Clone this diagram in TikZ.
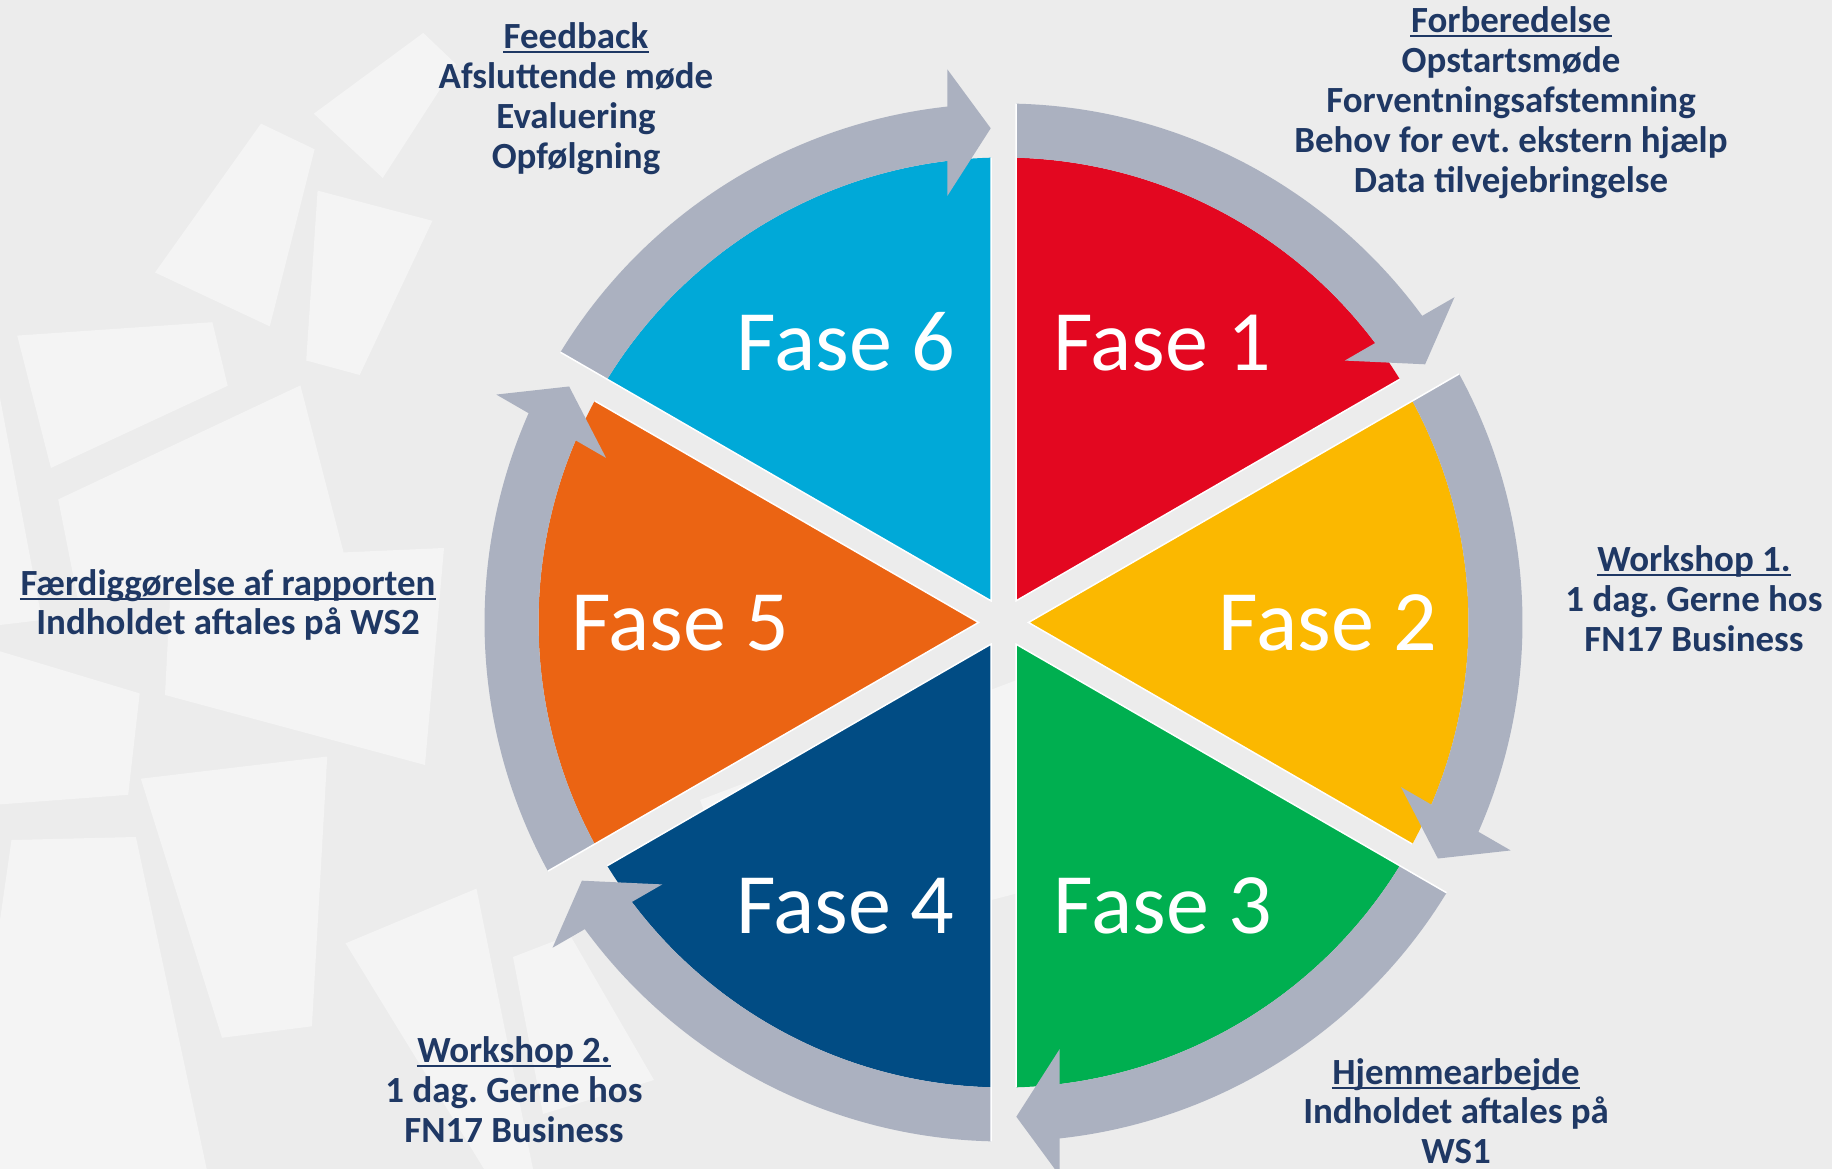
\documentclass[tikz,border=0pt]{standalone}
\usepackage{fontspec}
\setmainfont{Carlito}
\frenchspacing
\definecolor{bg}{HTML}{ECECEC}
\definecolor{sheetcol}{HTML}{F4F4F4}
\definecolor{ringcol}{HTML}{ABB1C0}
\definecolor{ink}{HTML}{1F3864}
\definecolor{c1}{HTML}{E30720}
\definecolor{c2}{HTML}{FBB800}
\definecolor{c3}{HTML}{00AF50}
\definecolor{c4}{HTML}{014C84}
\definecolor{c5}{HTML}{EB6413}
\definecolor{c6}{HTML}{00A9D8}
\tikzset{
  sheet/.style={fill=sheetcol},
  band/.style={fill=ringcol},
  edge/.style={draw=white, line width=0.15mm},
  fase/.style={text=white, inner sep=0pt, anchor=base, font=\fontsize{24.5}{29}\selectfont},
  lbl/.style={text=ink, inner sep=0pt, anchor=base, font=\bfseries\fontsize{10.5}{12}\selectfont},
  ul/.style={draw=ink, line width=0.2mm},
}

\begin{document}
\begin{tikzpicture}[x=0.1mm,y=-0.1mm]
  \useasboundingbox (0,0) rectangle (1832,1169);
  \fill[bg] (0,0) rectangle (1832,1169);
  % loose sheets behind the wheel
  \fill[sheet] (313.8,113.7) -- (423.3,32.9) -- (456.2,64.3) -- (382.7,178) -- cycle;
  \fill[sheet] (155,272.5) -- (261,123.6) -- (314.6,149.3) -- (269.8,326.4) -- cycle;
  \fill[sheet] (317.6,190.6) -- (432.4,220.8) -- (359.7,375) -- (306.2,360.5) -- cycle;
  \fill[sheet] (17.2,335.6) -- (212.4,322.2) -- (227.7,385.8) -- (50.9,468) -- cycle;
  \fill[sheet] (58.2,499.4) -- (300.4,385.4) -- (347.5,567.6) -- (78,600) -- cycle;
  \fill[sheet] (172,560) -- (444,548) -- (425,765) -- (165,695) -- cycle;
  \fill[sheet] (0,398) -- (42,620) -- (0,625) -- cycle;
  \fill[sheet] (0,651.3) -- (139.7,693.4) -- (128.2,794.8) -- (0,804.4) -- cycle;
  \fill[sheet] (140.8,778.7) -- (327.2,756.5) -- (311.9,1026.3) -- (222,1037.8) -- cycle;
  \fill[sheet] (11.5,840) -- (135.9,837) -- (206.7,1169) -- (0,1169) -- (0,920) -- cycle;
  \fill[sheet] (345.6,943.3) -- (476.5,888.6) -- (533,1169) -- (484,1169) -- cycle;
  \fill[sheet] (513,957) -- (570,935) -- (654,1080) -- (543,1114) -- cycle;
  \fill[sheet] (700,800) -- (1030,675) -- (1030,890) -- (760,960) -- cycle;

  % six segments, each with its arrow
  \foreach \col [count=\k from 0] in {c6,c1,c2,c3,c4,c5} {
    \begin{scope}[shift={(1003.5,622.5)},x=0.1mm,y=0.1mm,rotate=-60*\k]
      \fill[\col] (-12.5,21.65) -- (91.54:465) arc[start angle=91.54,end angle=148.46,radius=465] -- cycle;
      \fill[band] (148.46:465) -- (148.62:519) arc[start angle=148.62,end angle=95.5,radius=519]
        -- (95.5:465) arc[start angle=95.5,end angle=148.46,radius=465] -- cycle;
      \fill[band] (-56.2,426.5) -- (-12.8,494.2) -- (-56.2,553.2) -- cycle;
      \draw[edge] (91.54:465) -- (-12.5,21.65) -- (148.46:465) -- (148.62:519);
    \end{scope}
  }

  \node[fase] at (1162.5,370.5) (fase1) {Fase 1};
  \node[fase] at (1328,651) (fase2) {Fase 2};
  \node[fase] at (1163,933) (fase3) {Fase 3};
  \node[fase] at (845.5,933) (fase4) {Fase 4};
  \node[fase] at (680.5,651) (fase5) {Fase 5};
  \node[fase] at (846,370.5) (fase6) {Fase 6};

  \node[lbl] at (1511,33) (forb) {Forberedelse};
  \foreach \t/\y [count=\i] in {Opstartsmøde/72.8,Forventningsafstemning/112.6,Behov for evt. ekstern hjælp/152.4,Data tilvejebringelse/192.2}
    \node[lbl] at (1511,\y) (forb\i) {\t};
  \node[lbl] at (576,49) (feed) {Feedback};
  \foreach \t/\y [count=\i] in {Afsluttende møde/88.8,Evaluering/128.6,Opfølgning/168.4}
    \node[lbl] at (576,\y) (feed\i) {\t};
  \node[lbl] at (1694,572) (wsa) {Workshop 1.};
  \node[lbl] at (1694,612) (wsa1) {1 dag. Gerne hos};
  \node[lbl] at (1694,652) (wsa2) {FN17 Business};
  \node[lbl] at (1456,1084) (hjem) {Hjemmearbejde};
  \node[lbl] at (1456,1123.8) (hjem1) {Indholdet aftales på};
  \node[lbl] at (1456,1163.6) (hjem2) {WS1};
  \node[lbl] at (514,1062) (wsb) {Workshop 2.};
  \node[lbl] at (514,1102) (wsb1) {1 dag. Gerne hos};
  \node[lbl] at (514,1142) (wsb2) {FN17 Business};
  \node[lbl] at (228,596) (faerd) {Færdiggørelse af rapporten};
  \node[lbl] at (228,635) (faerd1) {Indholdet aftales på WS2};
  \foreach \n in {forb,feed,wsa,hjem,wsb,faerd}
    \draw[ul] ([yshift=-0.35mm]\n.base west) -- ([yshift=-0.35mm]\n.base east);
\end{tikzpicture}
\end{document}
